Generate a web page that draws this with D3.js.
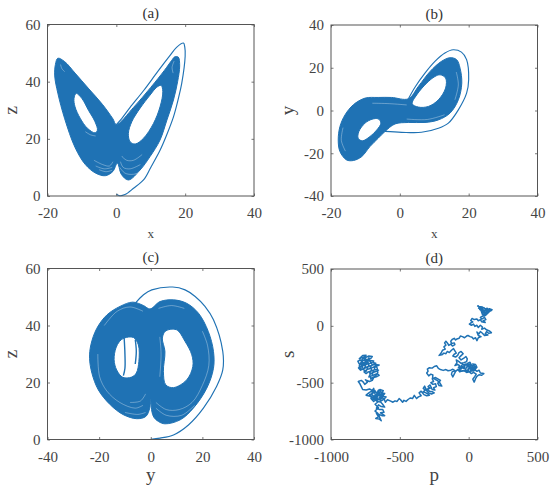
<!DOCTYPE html>
<html><head><meta charset="utf-8">
<script src="https://cdn.jsdelivr.net/npm/d3@7/dist/d3.min.js"></script>
<style>html,body{margin:0;padding:0;background:#fff}svg{display:block}</style>
</head><body><svg id="c" width="550" height="491"></svg>
<script>
const titles=["(a)","(b)","(c)","(d)"];
const xLabels=["x","x","y","p"];
const yLabels=["z","y","z","s"];
const xTicks=[[-20,0,20,40],[-20,0,20,40],[-40,-20,0,20,40],[-1000,-500,0,500]];
const yTicks=[[0,20,40,60],[-40,-20,0,20,40],[0,20,40,60],[-1000,-500,0,500]];

// Panel (a): x-z
const aBand=[[0,25],[5,31],[10,38],[14,44],[16,47.3],[17,48.7],[18,48.6],[18.4,45.5],[17.8,40],[16.6,33.6],[14.7,26.6],[12.7,19.6],[9.8,13.8],[6.9,9.1],[3.5,5.6],[1.5,7.5],[0.3,11.5],[-1,8.6],[-3.2,7.1],[-6,8],[-9,11],[-12,17],[-15,27],[-17,36],[-17.9,42],[-17.7,46],[-17,48.2],[-15,47],[-12,43],[-8,37.5],[-4,32],[-1,27]];
const aHoleL=[[-11.7,35.9],[-10,34.1],[-8.1,30],[-6.2,26],[-5.5,23],[-6.2,22.1],[-8.4,23.7],[-10.5,27.2],[-12,31.2],[-12.3,34.1]];
const aHoleR=[[13,38.7],[13.5,36.5],[12.7,31.2],[10.8,25.4],[7.9,20.2],[5.5,18.2],[4,19],[3.5,21.9],[4.5,26],[6.9,30.7],[9.8,35.3],[11.7,38]];
const aTrace=[[0,0.6],[1,0.1],[2.5,0.5],[5,2.7],[7.9,5.6],[10,10],[12.7,16],[14.5,21],[16.6,27.7],[18,34],[19,39.4],[20,49],[19.9,52],[19.5,53.5],[17.5,52],[15.5,49],[12,43.5],[8,37],[4,31],[1.5,27],[0,25]];
const aFine=[[[-6.5,12.5],[-4,11],[-2,10.5],[-1,12]],[[-6,10.5],[-3.5,9.5],[-1.2,10]],[[-5,9.2],[-3,8.5],[-1.2,9]],[[1.2,12],[2,10],[4,9.5],[7,11]],[[1.5,14],[3,12.5],[5,12.5],[7.5,14.5]],[[1,10],[2.5,8],[5,7.6],[8,9]],[[-16.2,46],[-15.8,44.5],[-15,43.5]],[[16.8,47.2],[16.2,45],[16.5,43]],[[-9,22.5],[-7.5,21.4],[-6,21]]];

// Panel (b): x-y
const bBand=[[2.5,5.5],[-2.4,6.1],[-6.3,6.1],[-10.1,5.8],[-13.5,2.7],[-15.9,-2],[-17.4,-7.5],[-17.9,-13.8],[-17.4,-19.2],[-15.5,-23.1],[-13.5,-23.4],[-11.1,-21.6],[-8.7,-16.9],[-6.3,-13],[-4.3,-9.8],[-1.4,-6.3],[2.5,-5.6],[7.3,-5.6],[11.2,-4.4],[14.6,-1.2],[17,5],[18,12.8],[17.5,19.8],[16.5,23.8],[14.6,24.7],[12.1,23],[8.8,18.3],[5.4,11.3]];
const bHoleL=[[-6.3,-3.9],[-5.5,-5.9],[-6.7,-9.1],[-8.7,-12.2],[-10.9,-14.2],[-12.1,-13],[-11.9,-9.8],[-10.1,-5.9],[-8.1,-4.1]];
const bHoleR=[[11.7,16.7],[13.3,15.2],[13.3,10.5],[11.2,5],[8.3,1.9],[5.4,1.6],[3.6,3.1],[4.9,7.3],[7.8,12.8],[10.2,15.9]];
const bTrace=[[-4.3,-9.8],[0.5,-10.2],[6.3,-10.2],[11.2,-8.3],[14.1,-5.9],[17,0.3],[19.4,8.1],[20,14.4],[19.4,23.8],[17.9,27.3],[15.5,28.4],[13.1,26.9],[10.2,23],[7.3,17.5],[4.4,10.9],[2.5,5.5]];
const bFine=[[[-8,3.4],[-3,3.2],[2,2.6]],[[2,-4],[8,-4.2],[13,-2]],[[16,5],[17,12],[16.4,18]],[[-16.5,-8],[-17,-14],[-15.8,-19]]];

// Panel (c): y-z
const cBand=[[-7,48.2],[-11.9,46.7],[-17,43.7],[-20.9,39],[-23.2,33.2],[-23.7,28.5],[-22.8,23.3],[-20.3,17.4],[-15.7,12.2],[-10.6,8.7],[-5.4,7.3],[-1.9,8.1],[-0.4,11],[0,14],[0.4,10],[1.2,7.8],[3,6.3],[5.5,5.5],[11.4,6.9],[16.5,11],[21.7,18],[24.3,25],[24.3,30.9],[22.3,37.9],[18.5,44.3],[13.9,47.8],[8.8,49],[3.6,48.4],[-0.3,45.8],[-2.8,47]];
const cHoleL=[[-10.3,35.6],[-6.7,35.8],[-4.8,33.2],[-4.6,27.4],[-5.6,23.3],[-7.4,21.9],[-10.8,21.8],[-13.2,24.4],[-14.2,28],[-13.5,32.1],[-12.1,34.4]];
const cHoleR=[[5.8,38.1],[10,38.5],[13.3,34.4],[15.9,29.7],[16.3,25.6],[13.9,20.9],[8.8,18.2],[5.8,19.2],[4.9,23.9],[5.5,30.9],[4.5,35.6]];
const cTrace=[[0,0.1],[3.6,0.5],[8.8,1.6],[14.6,5.1],[20.4,11],[25.5,18.6],[27.9,24.4],[27.9,30.9],[24.3,42],[21,46.7],[17.2,50.2],[13.3,52.5],[8.5,53.5],[0.4,52.5],[-2.8,50.8],[-6,47.8]];
const cHoleLines=[[[-10.3,35.7],[-10,30],[-10,25],[-10.6,22.4]],[[-6,35],[-5.6,31],[-6,26.5]]];
const cFine=[[[-20.5,30],[-19.8,22],[-17,17],[-12,13],[-6,11],[-3,12]],[[-8,13],[-4,13.5],[-2,16]],[[-10,9.5],[-5,8.8],[-2,9.5]],[[2,13],[6,10.5],[11,10.5],[16,13],[20,19],[22.5,26],[22,33],[20,38]],[[2,11],[6,8.5],[12,8.5],[17,12]],[[-18,40],[-13,45],[-8,46.5],[-3,45]],[[3,46],[8,47],[13,46]],[[3.5,36],[4,30],[3.5,22]]];

// Panel (d): p-s, traced along the path section by section
const dTopCluster=[[120,135],[135,145],[155,140],[140,125],[125,115],[105,120],[115,135],[100,145],[85,155],[100,165],[75,170],[65,175],[80,168],[72,155],[90,165],[100,155],[92,145],[110,160],[120,148],[135,155],[128,140],[150,150],[170,142],[160,130],[145,135],[130,125],[140,115],[120,118],[105,130],[95,120],[110,110],[125,105],[112,95],[100,100],[90,135],[80,145],[105,140],[118,130],[135,135],[150,125],[120,90],[100,85],[85,75],[95,60],[115,75],[125,55],[105,45],[120,30],[95,35],[85,55],[70,45],[60,60],[40,55],[25,65],[15,45],[30,35],[15,25],[5,15],[20,5],[35,15],[45,-5],[60,5],[70,-15],[85,5],[100,-10],[95,-30],[115,-20],[130,-35],[150,-45],[165,-60],[145,-65],[130,-50],[120,-70],[140,-80],[115,-85],[100,-65],[85,-50],[75,-70],[60,-55],[70,-85],[90,-95],[70,-105],[60,-130],[50,-105]];
const dBridgeUpper=[[35,-115],[25,-100],[10,-95],[-5,-85],[-15,-90],[-30,-105],[-45,-95],[-60,-90],[-70,-110],[-85,-115],[-95,-125],[-105,-110],[-120,-120],[-130,-135],[-125,-155],[-105,-150],[-100,-165],[-118,-178],[-130,-160],[-145,-172],[-152,-155],[-165,-135],[-175,-150],[-165,-170],[-180,-185],[-170,-205],[-190,-215],[-200,-240],[-215,-260],[-195,-255],[-180,-240],[-165,-245],[-155,-225],[-140,-235],[-125,-215],[-110,-200],[-100,-220],[-90,-240],[-105,-250],[-115,-265],[-95,-275],[-80,-260],[-70,-235],[-55,-225],[-40,-245],[-55,-262],[-70,-280],[-55,-300],[-35,-285],[-20,-270],[-10,-290],[-15,-315],[-35,-325]];
const dMidCluster=[[-55,-330],[-75,-310],[-90,-300],[-85,-325],[-100,-350],[-80,-340],[-65,-350],[-75,-370],[-55,-380],[-45,-360],[-30,-370],[-35,-345],[-20,-335],[-10,-355],[-25,-385],[-5,-395],[5,-375],[-10,-330],[10,-320],[20,-345],[5,-355],[25,-365],[15,-390],[35,-385],[45,-360],[30,-335],[50,-340],[60,-365],[45,-385],[60,-400],[75,-390],[85,-415],[110,-420],[95,-435],[75,-430],[60,-445],[50,-465],[40,-495],[30,-470],[45,-445],[55,-425],[35,-410],[20,-420],[5,-405],[-15,-410],[-35,-395],[-50,-400],[-70,-385],[-60,-365],[-45,-340],[-25,-350],[-40,-375],[-15,-370],[0,-340],[15,-335],[10,-365],[-5,-380],[15,-375],[30,-395],[25,-350],[40,-350],[35,-370],[50,-375],[55,-350],[40,-395],[10,-400],[-20,-395],[-45,-395]];
const dBridgeLower=[[-65,-405],[-80,-385],[-95,-400],[-105,-425],[-115,-450],[-125,-425],[-120,-405],[-100,-395],[-115,-382],[-130,-390],[-150,-395],[-165,-385],[-185,-392],[-205,-385],[-220,-375],[-232,-352],[-250,-358],[-265,-372],[-285,-368],[-300,-380],[-295,-400],[-305,-415],[-290,-440],[-275,-425],[-260,-432],[-262,-455],[-245,-470],[-230,-480],[-215,-492],[-195,-530],[-215,-525],[-225,-505],[-205,-480],[-240,-455],[-265,-465],[-255,-490],[-275,-500],[-260,-515],[-240,-510],[-235,-535],[-255,-545],[-245,-565],[-265,-560],[-280,-520],[-295,-535],[-280,-550],[-300,-555],[-285,-575],[-265,-580],[-250,-590],[-270,-600],[-290,-590],[-305,-570],[-320,-530],[-330,-550],[-315,-565],[-330,-580],[-310,-590],[-285,-610],[-305,-615],[-325,-605],[-345,-575],[-360,-590],[-345,-615],[-365,-625],[-378,-640],[-395,-612],[-408,-640],[-425,-635],[-440,-648],[-455,-665],[-470,-655],[-480,-672],[-495,-650],[-505,-640],[-520,-665],[-535,-660],[-550,-672],[-570,-660],[-590,-650],[-605,-672]];
const dLowCluster=[[-615,-640],[-640,-625],[-625,-600],[-640,-575],[-655,-565],[-670,-610],[-690,-620],[-705,-600],[-695,-570],[-675,-580],[-660,-600],[-640,-600],[-620,-610],[-645,-640],[-665,-655],[-680,-630],[-700,-650],[-685,-645],[-660,-640],[-635,-660],[-620,-650],[-600,-625],[-625,-620],[-610,-595],[-630,-590],[-620,-570],[-645,-560],[-660,-575],[-645,-590],[-670,-590],[-655,-610],[-635,-610],[-650,-630],[-630,-640],[-650,-650],[-670,-640],[-660,-620],[-680,-610],[-695,-630],[-675,-650],[-690,-665],[-710,-640],[-700,-610],[-720,-605],[-690,-590],[-680,-570],[-705,-575],[-690,-550],[-680,-600],[-670,-640],[-665,-665],[-640,-670],[-625,-690],[-610,-715],[-635,-710],[-655,-695],[-670,-725],[-650,-735],[-625,-735],[-615,-760],[-640,-765],[-610,-790],[-630,-790],[-650,-780],[-670,-770],[-655,-800],[-675,-815],[-650,-820],[-635,-835],[-660,-770],[-680,-750],[-655,-720],[-680,-690],[-660,-670],[-690,-640],[-715,-620],[-745,-610],[-725,-590],[-700,-570],[-720,-555],[-745,-565],[-770,-560],[-780,-535],[-790,-510],[-802,-490],[-780,-480],[-765,-495],[-755,-515],[-735,-495],[-750,-475],[-720,-490],[-700,-480]];
const dLeftCluster=[[-690,-455],[-665,-445],[-650,-435],[-665,-420],[-685,-430],[-705,-440],[-725,-450],[-715,-425],[-695,-410],[-670,-400],[-655,-390],[-680,-385],[-700,-395],[-730,-405],[-745,-420],[-760,-405],[-740,-385],[-715,-375],[-695,-365],[-670,-355],[-650,-345],[-685,-340],[-710,-350],[-735,-360],[-760,-375],[-785,-390],[-800,-370],[-780,-355],[-755,-345],[-730,-335],[-705,-325],[-690,-310],[-715,-305],[-740,-315],[-765,-325],[-795,-335],[-805,-310],[-785,-300],[-760,-305],[-735,-295],[-710,-285],[-700,-270],[-725,-265],[-750,-280],[-775,-280],[-795,-290],[-770,-262],[-745,-258],[-760,-290],[-730,-320],[-770,-340],[-775,-300],[-785,-330],[-770,-365],[-785,-375],[-795,-355],[-780,-320],[-770,-290],[-755,-265],[-745,-300],[-755,-330],[-750,-355],[-765,-385],[-745,-400],[-725,-345],[-735,-310],[-725,-280],[-715,-315],[-700,-340],[-715,-365],[-705,-385],[-720,-415],[-700,-425],[-690,-395],[-680,-365],[-675,-330],[-690,-325],[-665,-370],[-660,-410],[-675,-440],[-700,-455],[-710,-470],[-715,-440]];
const dWalk=[...dTopCluster,...dBridgeUpper,...dMidCluster,...dBridgeLower,...dLowCluster,...dLeftCluster];

const boxes=[[47.5,254,24.5,196],[331,537.5,25,196],[47.5,254,268.5,439.5],[331,537.5,269,439.5]];
const xDomains=[[-20,40],[-20,40],[-40,40],[-1000,500]];
const yDomains=[[0,60],[-40,40],[0,60],[-1000,500]];
const xLabelSize=[13,13,19,19], xLabelY=[238,238,481,481], xPad=[11,11,12,12], yLabelOff=[31,37,31,37];
const blue="#1f72b4", grey="#555";
const svg=d3.select("#c");
const panels=[
 {band:aBand,holes:[aHoleL,aHoleR],trace:aTrace,fine:aFine},
 {band:bBand,holes:[bHoleL,bHoleR],trace:bTrace,fine:bFine},
 {band:cBand,holes:[cHoleL,cHoleR],trace:cTrace,fine:cFine,inner:cHoleLines},
 {walk:dWalk}];
panels.forEach((p,i)=>{
  const [l,r,t,b]=boxes[i];
  const x=d3.scaleLinear().domain(xDomains[i]).range([l,r]);
  const y=d3.scaleLinear().domain(yDomains[i]).range([b,t]);
  const g=svg.append("g");
  const closed=d3.line().x(d=>x(d[0])).y(d=>y(d[1])).curve(d3.curveCatmullRomClosed.alpha(0.5));
  const open=d3.line().x(d=>x(d[0])).y(d=>y(d[1])).curve(d3.curveCatmullRom.alpha(0.5));
  if(p.band){
    g.append("path").attr("d",[p.band,...p.holes].map(closed).join(" ")).attr("fill",blue).attr("fill-rule","evenodd").attr("stroke",blue).attr("stroke-width",1);
    (p.inner||[]).forEach(a=>g.append("path").attr("d",open(a)).attr("fill","none").attr("stroke",blue).attr("stroke-width",1.4));
    g.append("path").attr("d",open(p.trace)).attr("fill","none").attr("stroke",blue).attr("stroke-width",1.15);
    p.fine.forEach(a=>g.append("path").attr("d",open(a)).attr("fill","none").attr("stroke","#fff").attr("stroke-opacity",0.55).attr("stroke-width",0.6));
  }else{
    const ln=d3.line().x(d=>x(d[0])).y(d=>y(d[1]));
    g.append("path").attr("d",ln(p.walk)).attr("fill","none").attr("stroke",blue).attr("stroke-width",1.5).attr("stroke-linejoin","round");
  }
  const style=a=>{a.select(".domain").remove();a.selectAll("line").attr("stroke",grey).attr("stroke-width",0.8);};
  const fmt=d=>String(d);
  const ax=(gen,tr,lab)=>{const a=svg.append("g").attr("transform",tr).call(gen);style(a);
     a.selectAll("text").attr("fill","#444").attr("font-family","'Liberation Serif',serif").attr("font-size",15);if(!lab)a.selectAll("text").remove();return a;};
  ax(d3.axisBottom(x).tickValues(xTicks[i]).tickFormat(fmt).tickSize(-2.5).tickPadding(xPad[i]),`translate(0,${b})`,true);
  ax(d3.axisTop(x).tickValues(xTicks[i]).tickFormat(fmt).tickSize(-2.5),`translate(0,${t})`,false);
  ax(d3.axisLeft(y).tickValues(yTicks[i]).tickFormat(fmt).tickSize(-2.5).tickPadding(7),`translate(${l},0)`,true);
  ax(d3.axisRight(y).tickValues(yTicks[i]).tickFormat(fmt).tickSize(-2.5),`translate(${r},0)`,false);
  svg.append("rect").attr("x",l).attr("y",t).attr("width",r-l).attr("height",b-t).attr("fill","none").attr("stroke",grey).attr("stroke-width",1);
  const mid=(l+r)/2, font="'Liberation Serif',serif";
  svg.append("text").attr("x",mid).attr("y",t-6.5).attr("text-anchor","middle").attr("font-family",font).attr("font-size",15).attr("fill","#333").text(titles[i]);
  svg.append("text").attr("x",mid).attr("y",xLabelY[i]).attr("text-anchor","middle").attr("font-family",font).attr("font-size",xLabelSize[i]).attr("fill","#444").text(xLabels[i]);
  const lx=l-yLabelOff[i], ly=(t+b)/2;
  svg.append("text").attr("transform",`translate(${lx},${ly}) rotate(-90)`).attr("text-anchor","middle").attr("font-family",font).attr("font-size",19).attr("fill","#444").text(yLabels[i]);
});
</script></body></html>
